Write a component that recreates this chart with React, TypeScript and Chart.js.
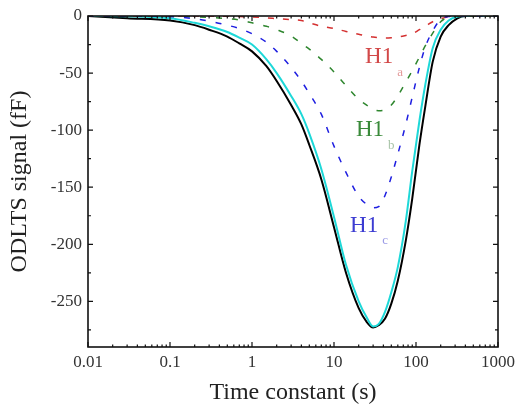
import { useEffect, useRef } from "react";
import { Chart, registerables } from "chart.js";

Chart.register(...registerables);

const timeConstants = [0.01, 0.03, 0.1, 0.2, 0.3, 0.5, 0.7, 1, 1.5, 2, 3, 4, 5, 7, 10, 14, 20, 25, 30, 35, 42, 50, 60, 75, 90, 110, 130, 160, 200, 250, 320, 400, 1000];
const measured = [0, -2, -4, -8, -12, -18, -24, -31, -44, -57, -78, -95, -113, -143, -185, -225, -256, -268, -273, -271, -265, -252, -232, -197, -160, -113, -79, -40, -18, -8, -2, 0, 0];
const fitTotal = [0, -0.3, -2, -6, -9, -14, -19, -25, -38, -50, -70, -86, -103, -134, -176, -218, -250, -264, -272, -270, -259, -242, -220, -180, -136, -92, -60, -28, -12, -4, -0.5, 0, 0];
const h1a = [0, 0, 0, 0, -0.1, -0.3, -0.5, -0.9, -1.6, -2.3, -3.2, -4, -6, -9, -11, -13.5, -16, -17.5, -18.5, -19, -19.2, -19, -18.5, -17, -15.5, -12, -9, -5, -2.5, -0.8, -0.1, 0, 0];
const h1b = [0, 0, -0.3, -0.8, -1.3, -2.3, -3.5, -6, -9, -12, -17.5, -24, -29, -38, -49, -61, -73, -78, -82, -83, -82, -78, -70, -58, -48, -36, -26, -15, -5, -1, 0, 0, 0];
const h1c = [0, 0, -0.5, -2.5, -4.5, -8, -11, -15.5, -23, -31, -45, -57, -68, -86, -114, -137, -158, -165, -168, -167, -157, -141, -121, -95, -71, -45, -27, -13, -3, -0.5, 0, 0, 0];

const xTickValues = [0.01, 0.1, 1, 10, 100, 1000];
const xTickLabels = ["0.01", "0.1", "1", "10", "100", "1000"];
const yTickValues = [0, -50, -100, -150, -200, -250];
const yTickLabels = ["0", "-50", "-100", "-150", "-200", "-250"];
const yMinorTickValues = [-25, -75, -125, -175, -225, -275];
const xMinorMultipliers = [2, 3, 4, 5, 6, 7, 8, 9];

const peakNames = ["H1", "H1", "H1"];
const peakSubs = ["a", "b", "c"];
const peakT = [23.9, 18.5, 15.7];
const peakV = [-36, -100, -184];
const peakColors = ["#d24848", "#3a8a3a", "#3c3cd2"];
const peakSubColors = ["#e39a9a", "#a8c4a8", "#9a9ae6"];

const SERIF = '"Liberation Serif", "Times New Roman", serif';

const pts = (ys: number[]) => timeConstants.map((t, i) => ({ x: t, y: ys[i] }));

const framePlugin = {
  id: "frameTicks",
  afterDatasetsDraw(chart: any) {
    const { ctx, chartArea, scales } = chart;
    const { left, right, top, bottom } = chartArea;
    const xs = scales.x;
    const ys = scales.y;
    ctx.save();
    ctx.strokeStyle = "#111";
    ctx.lineWidth = 1.6;
    ctx.strokeRect(left, top, right - left, bottom - top);
    ctx.lineWidth = 1.2;
    ctx.beginPath();
    const majorX = 5, minorX = 2.5, majorY = 5, minorY = 3;
    xTickValues.forEach((v) => {
      const px = xs.getPixelForValue(v);
      ctx.moveTo(px, bottom); ctx.lineTo(px, bottom - majorX);
      ctx.moveTo(px, top); ctx.lineTo(px, top + majorX);
    });
    xTickValues.slice(0, -1).forEach((d) => {
      xMinorMultipliers.forEach((m) => {
        const px = xs.getPixelForValue(d * m);
        ctx.moveTo(px, bottom); ctx.lineTo(px, bottom - minorX);
        ctx.moveTo(px, top); ctx.lineTo(px, top + minorX);
      });
    });
    yTickValues.forEach((v) => {
      const py = ys.getPixelForValue(v);
      ctx.moveTo(left, py); ctx.lineTo(left + majorY, py);
      ctx.moveTo(right, py); ctx.lineTo(right - majorY, py);
    });
    yMinorTickValues.forEach((v) => {
      const py = ys.getPixelForValue(v);
      ctx.moveTo(left, py); ctx.lineTo(left + minorY, py);
      ctx.moveTo(right, py); ctx.lineTo(right - minorY, py);
    });
    ctx.stroke();

    peakNames.forEach((name, i) => {
      const px = xs.getPixelForValue(peakT[i]);
      const py = ys.getPixelForValue(peakV[i]);
      ctx.font = `23px ${SERIF}`;
      ctx.textAlign = "left";
      ctx.textBaseline = "middle";
      ctx.fillStyle = peakColors[i];
      ctx.fillText(name, px, py);
      const w = ctx.measureText(name).width;
      ctx.font = `13px ${SERIF}`;
      ctx.fillStyle = peakSubColors[i];
      ctx.fillText(peakSubs[i], px + w + 4, py + 15);
    });
    ctx.restore();
  },
};

export default function App() {
  const ref = useRef<HTMLCanvasElement | null>(null);
  useEffect(() => {
    if (!ref.current) return;
    const line = (label: string, data: number[], color: string, width: number, dash: number[], order: number) => ({
      label,
      data: pts(data),
      borderColor: color,
      backgroundColor: color,
      borderWidth: width,
      borderDash: dash,
      pointRadius: 0,
      fill: false,
      cubicInterpolationMode: "monotone" as const,
      order,
    });
    const chart = new Chart(ref.current, {
      type: "line",
      data: {
        datasets: [
          line("Measured", measured, "#000000", 2, [], 5),
          line("Fit", fitTotal, "#1ed8d8", 2, [], 4),
          line("H1a", h1a, "#d43030", 1.5, [6, 9], 3),
          line("H1b", h1b, "#2e862e", 1.5, [6, 10], 2),
          line("H1c", h1c, "#1e1ee0", 1.5, [6, 10], 1),
        ],
      },
      options: {
        responsive: false,
        animation: false,
        events: [],
        layout: { padding: { left: 0, right: 17, top: 16, bottom: 0 } },
        plugins: { legend: { display: false }, tooltip: { enabled: false } },
        scales: {
          x: {
            type: "logarithmic",
            min: 0.01,
            max: 1000,
            afterBuildTicks: (s: any) => {
              s.ticks = xTickValues.map((v) => ({ value: v }));
            },
            afterFit: (s: any) => {
              s.height = 65;
              s.paddingLeft = 0;
              s.paddingRight = 0;
            },
            ticks: {
              autoSkip: false,
              maxRotation: 0,
              padding: 5,
              color: "#333",
              font: { family: SERIF, size: 17 },
              callback: (_v: any, i: number) => xTickLabels[i],
            },
            grid: { display: false, drawTicks: false },
            border: { display: false },
            title: {
              display: true,
              text: "Time constant (s)",
              color: "#222",
              font: { family: SERIF, size: 24 },
              padding: { top: 0, bottom: 5 },
            },
          },
          y: {
            type: "linear",
            min: -290,
            max: 0,
            afterBuildTicks: (s: any) => {
              s.ticks = yTickValues.map((v) => ({ value: v }));
            },
            afterFit: (s: any) => {
              s.width = 88;
              s.paddingTop = 0;
              s.paddingBottom = 0;
            },
            ticks: {
              padding: 6,
              color: "#333",
              font: { family: SERIF, size: 17 },
              callback: (_v: any, i: number) => yTickLabels[i],
            },
            grid: { display: false, drawTicks: false },
            border: { display: false },
            title: {
              display: true,
              text: "ODLTS signal (fF)",
              color: "#222",
              font: { family: SERIF, size: 24 },
              padding: { top: 5, bottom: 0 },
            },
          },
        },
      },
      plugins: [framePlugin],
    } as any);
    return () => chart.destroy();
  }, []);
  return (
    <div style={{ position: "absolute", left: 0, top: 0, width: 515, height: 412 }}>
      <canvas ref={ref} width={515} height={412} />
    </div>
  );
}
